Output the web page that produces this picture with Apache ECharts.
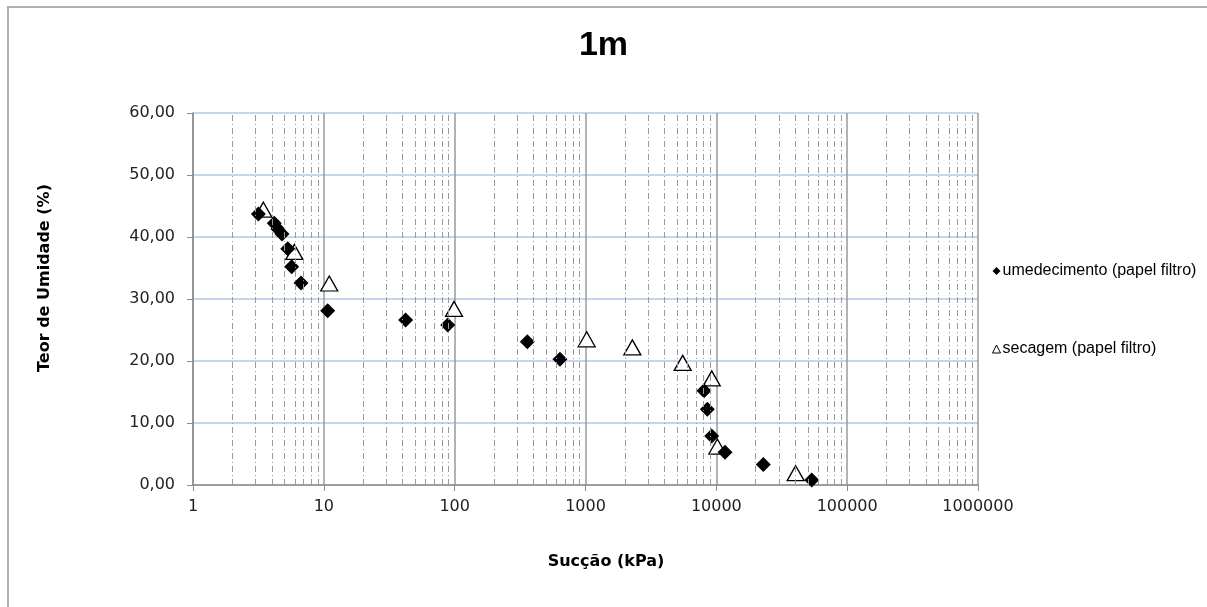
<!DOCTYPE html>
<html>
<head>
<meta charset="utf-8">
<script src="https://cdn.jsdelivr.net/npm/echarts@6/dist/echarts.min.js"></script>
<style>
  html, body { margin: 0; padding: 0; background: #fff; }
  #chart { width: 1207px; height: 607px; }
</style>
</head>
<body>
<div id="chart"></div>
<script>
// dados
var umedecimentoX = [3.16, 4.18, 4.46, 4.79, 5.3, 5.68, 6.69, 10.7, 42.2, 88.5, 359, 638, 8050, 8530, 9220, 11650, 22850, 53600];
var umedecimentoY = [43.7, 42.2, 41.3, 40.5, 38.1, 35.2, 32.6, 28.1, 26.6, 25.8, 23.1, 20.3, 15.2, 12.2, 7.9, 5.3, 3.3, 0.8];
var secagemX = [3.45, 5.95, 11.0, 98.9, 1021, 2281, 5530, 9220, 10180, 40400];
var secagemY = [44.4, 37.6, 32.5, 28.4, 23.5, 22.2, 19.7, 17.2, 6.2, 1.9];

var myChart = echarts.init(document.getElementById('chart'));

function pares(xs, ys) {
    var out = [];
    for (var i = 0; i < xs.length; i++) {
        out.push([xs[i], ys[i]]);
    }
    return out;
}

// linhas secundárias (2..9 de cada década)
var minorLines = [];
for (var d = 1; d < 1000000; d *= 10) {
    for (var k = 2; k <= 9; k++) {
        minorLines.push({ xAxis: d * k });
    }
}

var font = 'DejaVu Sans';

var option = {
    backgroundColor: '#fff',
    animation: false,
    title: {
        text: '1m',
        left: 'center',
        top: 24,
        textStyle: { fontFamily: 'Liberation Sans', fontWeight: 'bold', fontSize: 34, color: '#000' }
    },
    graphic: [
        {
            type: 'rect',
            shape: { x: 8, y: 7, width: 1400, height: 800 },
            style: { fill: 'none', stroke: '#b0b0b0', lineWidth: 2 },
            silent: true
        },
        {
            type: 'text',
            x: 45, y: 278,
            rotation: Math.PI / 2,
            style: {
                text: 'Teor de Umidade (%)',
                font: 'bold 16px "DejaVu Sans"',
                fill: '#000',
                align: 'center',
                verticalAlign: 'middle'
            }
        },
        {
            type: 'text',
            x: 606, y: 562,
            style: {
                text: 'Sucção (kPa)',
                font: 'bold 16px "DejaVu Sans"',
                fill: '#000',
                align: 'center',
                verticalAlign: 'middle'
            }
        }
    ],
    legend: {
        orient: 'vertical',
        left: 987,
        top: 258,
        itemGap: 62,
        itemWidth: 8,
        itemHeight: 8,
        textStyle: { fontFamily: 'Liberation Sans', fontSize: 16, color: '#000', padding: [0, 0, 0, -3] },
        data: [
            { name: 'umedecimento (papel filtro)', icon: 'diamond' },
            { name: 'secagem (papel filtro)', icon: 'triangle', itemStyle: { color: '#fff', borderColor: '#000', borderWidth: 1 } }
        ]
    },
    grid: {
        left: 193,
        right: 229,
        top: 113,
        bottom: 122
    },
    xAxis: {
        type: 'log',
        logBase: 10,
        min: 1,
        max: 1000000,
        splitNumber: 6,
        axisLine: { show: true, onZero: false, lineStyle: { color: '#8c8c8c', width: 1.5 } },
        axisTick: { show: true, length: 6, lineStyle: { color: '#8c8c8c' } },
        axisLabel: {
            margin: 14,
            fontFamily: font,
            fontSize: 16,
            color: '#222',
            formatter: function (v) { return String(Math.round(v)); }
        },
        splitLine: { show: true, lineStyle: { color: '#9a9a9a', width: 1.5 } }
    },
    yAxis: {
        type: 'value',
        min: 0,
        max: 60,
        interval: 10,
        axisLine: { show: true, lineStyle: { color: '#8c8c8c', width: 1.5 } },
        axisTick: { show: true, length: 6, lineStyle: { color: '#8c8c8c' } },
        axisLabel: {
            margin: 18,
            fontFamily: font,
            fontSize: 16,
            color: '#222',
            formatter: function (v) { return v.toFixed(2).replace('.', ','); }
        },
        splitLine: { show: true, lineStyle: { color: '#b4c6e7', width: 1.5 } }
    },
    series: [
        {
            name: 'grade',
            type: 'line',
            data: [],
            silent: true,
            z: 1,
            markLine: {
                silent: true,
                symbol: ['none', 'none'],
                label: { show: false },
                lineStyle: { color: '#9a9a9a', type: [6, 3, 1, 3], width: 1 },
                emphasis: { disabled: true },
                data: minorLines
            }
        },
        {
            name: 'secagem (papel filtro)',
            type: 'scatter',
            symbol: 'triangle',
            symbolSize: [17, 15],
            z: 3,
            itemStyle: { color: '#fff', borderColor: '#000', borderWidth: 1.3, opacity: 1 },
            data: pares(secagemX, secagemY)
        },
        {
            name: 'umedecimento (papel filtro)',
            type: 'scatter',
            symbol: 'diamond',
            symbolSize: [15, 15],
            z: 4,
            itemStyle: { color: '#000', opacity: 1 },
            data: pares(umedecimentoX, umedecimentoY)
        }
    ]
};
myChart.setOption(option);
</script>
</body>
</html>
